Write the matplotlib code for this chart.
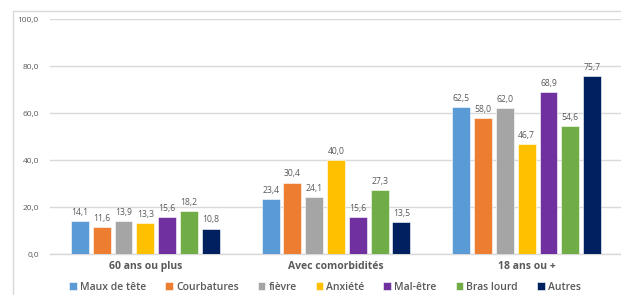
import matplotlib
matplotlib.use("Agg")
import matplotlib.pyplot as plt
from matplotlib.patches import Rectangle
import numpy as np

categories = ["60 ans ou plus", "Avec comorbidités", "18 ans ou +"]
series_names = ["Maux de tête", "Courbatures", "fièvre", "Anxiété", "Mal-être", "Bras lourd", "Autres"]
maux_de_tete = [14.1, 23.4, 62.5]
courbatures = [11.6, 30.4, 58.0]
fievre = [13.9, 24.1, 62.0]
anxiete = [13.3, 40.0, 46.7]
mal_etre = [15.6, 15.6, 68.9]
bras_lourd = [18.2, 27.3, 54.6]
autres = [10.8, 13.5, 75.7]
y_ticks = [0, 20, 40, 60, 80, 100]

series = [maux_de_tete, courbatures, fievre, anxiete, mal_etre, bras_lourd, autres]
colors = ["#5B9BD5", "#ED7D31", "#A5A5A5", "#FFC000", "#7030A0", "#70AD47", "#002060"]

plt.rcParams['font.family'] = ['Open Sans', 'DejaVu Sans']
W, H = 621, 295
fig = plt.figure(figsize=(W / 100, H / 100), dpi=100)
fig.patches.append(Rectangle((13 / W, -0.1), 1.1, (H - 11) / H + 0.1, transform=fig.transFigure,
                             facecolor="white", edgecolor="#D9D9D9", lw=1.0, zorder=-5))

ax = fig.add_axes([50 / W, (H - 254) / H, 572 / W, (254 - 19.3) / H])
ax.set_facecolor("none")
x = np.arange(len(categories))
n = len(series)
pitch = 0.8 / n
width = pitch * 0.82
text_color = "#595959"
for i, (vals, c, name) in enumerate(zip(series, colors, series_names)):
    pos = x - 0.4 + pitch * (i + 0.5)
    bars = ax.bar(pos, vals, width, color=c, label=name, zorder=3,
                  edgecolor="white", linewidth=0.4)
    for p, v in zip(pos, vals):
        ax.annotate(f"{v:.1f}".replace(".", ","), (p, v), xytext=(0, 3),
                    textcoords="offset points", ha="center", va="bottom",
                    fontsize=6.2, color=text_color, zorder=4)

ax.set_xlim(-0.5, 2.5)
ax.set_ylim(0, 100)
ax.set_yticks(y_ticks)
ax.set_yticklabels([f"{t:.1f}".replace(".", ",") for t in y_ticks], fontsize=6, color=text_color)
ax.set_xticks(x)
ax.set_xticklabels(categories, fontsize=7.5, fontweight="bold", color=text_color)
ax.tick_params(axis="both", length=0)
ax.tick_params(axis="y", pad=8)
ax.tick_params(axis="x", pad=5)
ax.grid(axis="y", color="#D9D9D9", lw=1.0, zorder=0)
for s in ["top", "right", "left"]:
    ax.spines[s].set_visible(False)
ax.spines["bottom"].set_color("#D9D9D9")
ax.spines["bottom"].set_linewidth(1.0)

leg = fig.legend(loc="center", bbox_to_anchor=(325 / W, (H - 287) / H), ncol=7,
                 frameon=False, fontsize=7.5, handlelength=0.75, handleheight=0.75,
                 handletextpad=0.3, columnspacing=1.8, borderaxespad=0)
for t in leg.get_texts():
    t.set_color(text_color)
    t.set_fontweight("semibold")

fig.savefig("out.png", dpi=100)
